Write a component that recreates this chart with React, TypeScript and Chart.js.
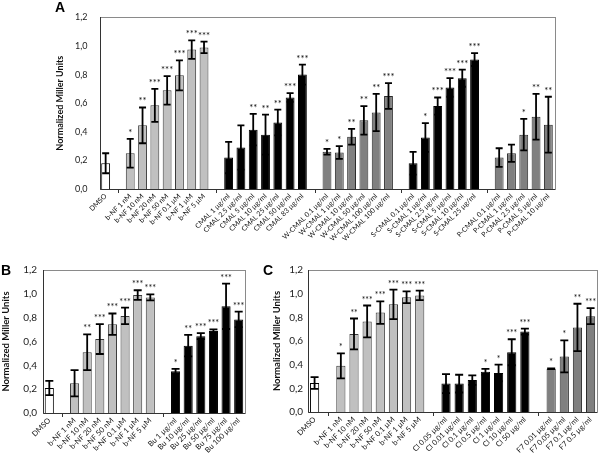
import React, { useEffect, useRef } from "react";
import { Chart, registerables } from "chart.js";
Chart.register(...registerables);

const FONT = "Lato, 'Open Sans', sans-serif";

// ---------- Panel A ----------
const aLabels = ["DMSO", "", "b-NF 1 nM", "b-NF 10 nM", "b-NF 20 nM", "b-NF 50 nM", "b-NF 0.1 µM", "b-NF 1 µM", "b-NF 5 µM", "",
  "CMAL 1 µg/ml", "CMAL 2.5 µg/ml", "CMAL 5 µg/ml", "CMAL 10 µg/ml", "CMAL 25 µg/ml", "CMAL 50 µg/ml", "CMAL 83 µg/ml", "",
  "W-CMAL 0.1 µg/ml", "W-CMAL 1 µg/ml", "W-CMAL 10 µg/ml", "W-CMAL 50 µg/ml", "W-CMAL 100 µg/ml", "W-CMAL 100 µg/ml", "",
  "S-CMAL 0.1 µg/ml", "S-CMAL 1 µg/ml", "S-CMAL 2.5 µg/ml", "S-CMAL 5 µg/ml", "S-CMAL 10 µg/ml", "S-CMAL 25 µg/ml", "",
  "P-CMAL 0.1 µg/ml", "P-CMAL 1 µg/ml", "P-CMAL 2.5 µg/ml", "P-CMAL 5 µg/ml", "P-CMAL 10 µg/ml"];
const aValues = [0.18, null, 0.25, 0.445, 0.585, 0.69, 0.795, 0.975, 0.99, null,
  0.22, 0.29, 0.415, 0.38, 0.465, 0.64, 0.8, null,
  0.26, 0.255, 0.365, 0.48, 0.535, 0.65, null,
  0.18, 0.36, 0.58, 0.71, 0.775, 0.905, null,
  0.22, 0.25, 0.38, 0.505, 0.45];
const aErrors = [0.07, null, 0.1, 0.125, 0.115, 0.1, 0.105, 0.065, 0.04, null,
  0.11, 0.155, 0.11, 0.14, 0.09, 0.03, 0.07, null,
  0.02, 0.045, 0.055, 0.1, 0.13, 0.09, null,
  0.08, 0.1, 0.06, 0.065, 0.06, 0.045, null,
  0.065, 0.06, 0.11, 0.16, 0.195];
const aSig = ["", "", "*", "**", "***", "***", "***", "***", "***", "",
  "", "", "**", "**", "**", "***", "***", "",
  "*", "*", "**", "**", "**", "***", "",
  "", "*", "***", "***", "***", "***", "",
  "", "", "*", "**", "**"];
const aGroups = ["dmso", "", "bnf", "bnf", "bnf", "bnf", "bnf", "bnf", "bnf", "",
  "dark", "dark", "dark", "dark", "dark", "dark", "dark", "",
  "mid", "mid", "mid", "mid", "mid", "mid", "",
  "dark", "dark", "dark", "dark", "dark", "dark", "",
  "mid", "mid", "mid", "mid", "mid"];

// ---------- Panel B ----------
const bLabels = ["DMSO", "", "b-NF 1 nM", "b-NF 10 nM", "b-NF 20 nM", "b-NF 50 nM", "b-NF 0.1 µM", "b-NF 1 µM", "b-NF 5 µM", "",
  "Bu 1 µg/ml", "Bu 10 µg/ml", "Bu 25 µg/ml", "Bu 50 µg/ml", "Bu 75 µg/ml", "Bu 100 µg/ml"];
const bValues = [0.21, null, 0.25, 0.51, 0.62, 0.745, 0.815, 0.99, 0.97, null,
  0.35, 0.565, 0.645, 0.69, 0.895, 0.785];
const bErrors = [0.06, null, 0.11, 0.15, 0.125, 0.09, 0.07, 0.04, 0.025, null,
  0.02, 0.09, 0.025, 0.012, 0.19, 0.065];
const bSig = ["", "", "", "**", "***", "***", "***", "***", "***", "",
  "*", "**", "***", "***", "***", "***"];
const bGroups = ["dmso", "", "bnf", "bnf", "bnf", "bnf", "bnf", "bnf", "bnf", "",
  "dark", "dark", "dark", "dark", "dark", "dark"];

// ---------- Panel C ----------
const cLabels = ["DMSO", "", "b-NF 1 nM", "b-NF 10 nM", "b-NF 20 nM", "b-NF 50 nM", "b-NF 0.1 µM", "b-NF 1 µM", "b-NF 5 µM", "",
  "Cl 0.05 µg/ml", "Cl 0.01 µg/ml", "Cl 0.1 µg/ml", "Cl 0.5 µg/ml", "Cl 1 µg/ml", "Cl 10 µg/ml", "Cl 50 µg/ml", "",
  "F7 0.01 µg/ml", "F7 0.05 µg/ml", "F7 0.1 µg/ml", "F7 0.5 µg/ml"];
const cValues = [0.245, null, 0.39, 0.66, 0.765, 0.84, 0.91, 0.97, 0.985, null,
  0.24, 0.24, 0.27, 0.34, 0.33, 0.505, 0.68, null,
  0.365, 0.47, 0.715, 0.81];
const cErrors = [0.05, null, 0.105, 0.13, 0.135, 0.095, 0.125, 0.05, 0.04, null,
  0.08, 0.075, 0.04, 0.025, 0.07, 0.11, 0.025, null,
  0.003, 0.135, 0.2, 0.068];
const cSig = ["", "", "*", "**", "***", "***", "***", "***", "***", "",
  "", "", "", "*", "*", "***", "***", "",
  "*", "*", "**", "***"];
const cGroups = ["dmso", "", "bnf", "bnf", "bnf", "bnf", "bnf", "bnf", "bnf", "",
  "dark", "dark", "dark", "dark", "dark", "dark", "dark", "",
  "mid", "mid", "mid", "mid"];

const yTicks = [0, 0.2, 0.4, 0.6, 0.8, 1.0, 1.2];
const yTitle = "Normalized Miller Units";

const FILL: Record<string, string> = { dmso: "#ffffff", bnf: "#c0c0c0", dark: "#000000", mid: "#808080", "": "#ffffff" };
const EDGE: Record<string, string> = { dmso: "#000000", bnf: "#3a3a3a", dark: "#000000", mid: "#2a2a2a", "": "#ffffff" };

type PanelCfg = {
  letter: string;
  labels: string[];
  values: (number | null)[];
  errors: (number | null)[];
  sig: string[];
  groups: string[];
  x: number; y: number; w: number; h: number;
  area: { left: number; right: number; top: number; bottom: number };
  tickFont: number; xFont: number; titleFont: number; starFont: number;
  tickPad: number;
  titleX: number; letterX: number; letterY: number;
  barPct: number; cap: number;
};

function Panel({ cfg }: { cfg: PanelCfg }) {
  const ref = useRef<HTMLCanvasElement>(null);
  useEffect(() => {
    const c = cfg;
    const deco = {
      id: "deco" + c.letter,
      afterDraw(chart: any) {
        const ctx = chart.ctx as CanvasRenderingContext2D;
        const ca = chart.chartArea;
        const xs = chart.scales.x;
        const ys = chart.scales.y;
        ctx.save();
        // plot box
        ctx.strokeStyle = "#8a8a8a";
        ctx.lineWidth = 1;
        ctx.strokeRect(Math.round(ca.left) + 0.5, Math.round(ca.top) + 0.5, Math.round(ca.right - ca.left), Math.round(ca.bottom - ca.top));
        ctx.strokeStyle = "#333";
        ctx.beginPath();
        ctx.moveTo(Math.round(ca.left) + 0.5, Math.round(ca.top));
        ctx.lineTo(Math.round(ca.left) + 0.5, Math.round(ca.bottom) + 0.5);
        ctx.lineTo(Math.round(ca.right), Math.round(ca.bottom) + 0.5);
        ctx.stroke();
        // small ticks at gap slots
        c.labels.forEach((l, i) => {
          if (l === "") {
            const px = Math.round(xs.getPixelForValue(i)) + 0.5;
            ctx.beginPath();
            ctx.moveTo(px, ca.bottom);
            ctx.lineTo(px, ca.bottom + 4);
            ctx.stroke();
          }
        });
        // error bars + stars
        const meta = chart.getDatasetMeta(0);
        ctx.strokeStyle = "#000";
        ctx.fillStyle = "#111";
        ctx.lineWidth = 1.8;
        ctx.font = `${c.starFont}px ${FONT}`;
        ctx.textAlign = "center";
        ctx.textBaseline = "alphabetic";
        c.values.forEach((v, i) => {
          const e = c.errors[i];
          if (v == null || e == null) return;
          const px = meta.data[i].x;
          const yt = ys.getPixelForValue(v + e);
          const yb = ys.getPixelForValue(v - e);
          ctx.beginPath();
          ctx.moveTo(px, yt);
          ctx.lineTo(px, yb);
          ctx.moveTo(px - c.cap, yt);
          ctx.lineTo(px + c.cap, yt);
          ctx.moveTo(px - c.cap, yb);
          ctx.lineTo(px + c.cap, yb);
          ctx.stroke();
          if (c.sig[i]) ctx.fillText(c.sig[i], px, yt - 3);
        });
        // y title
        ctx.fillStyle = "#111";
        ctx.font = `bold ${c.titleFont}px ${FONT}`;
        ctx.translate(c.titleX, (ca.top + ca.bottom) / 2);
        ctx.rotate(-Math.PI / 2);
        ctx.textAlign = "center";
        ctx.textBaseline = "middle";
        ctx.fillText(yTitle, 0, 0);
        ctx.setTransform(1, 0, 0, 1, 0, 0);
        // panel letter
        ctx.font = `bold 14px 'Liberation Sans', Arial, sans-serif`;
        ctx.textAlign = "center";
        ctx.textBaseline = "middle";
        ctx.fillStyle = "#000";
        ctx.fillText(c.letter, c.letterX, c.letterY);
        ctx.restore();
      },
    };
    const chart = new Chart(ref.current as HTMLCanvasElement, {
      type: "bar",
      data: {
        labels: c.labels,
        datasets: [
          {
            data: c.values as any,
            backgroundColor: c.groups.map((g) => FILL[g]),
            borderColor: c.groups.map((g) => EDGE[g]),
            borderWidth: 1,
            barPercentage: c.barPct,
            categoryPercentage: 1,
          },
        ],
      },
      options: {
        animation: false,
        responsive: false,
        maintainAspectRatio: false,
        devicePixelRatio: 1,
        events: [],
        layout: { padding: { left: 0, top: c.area.top, right: c.w - c.area.right, bottom: 0 } },
        plugins: { legend: { display: false }, tooltip: { enabled: false } },
        scales: {
          x: {
            type: "category",
            offset: true,
            grid: { display: false, drawTicks: false },
            border: { display: false },
            ticks: {
              autoSkip: false,
              maxRotation: 45,
              minRotation: 45,
              padding: 3,
              color: "#111",
              font: { family: FONT, size: c.xFont },
            },
            afterFit: (s: any) => { s.height = c.h - c.area.bottom; },
          },
          y: {
            min: 0,
            max: 1.2,
            grid: { display: false, drawTicks: false },
            border: { display: false },
            afterBuildTicks: (s: any) => { s.ticks = yTicks.map((v) => ({ value: v })); },
            ticks: {
              padding: c.tickPad,
              color: "#222",
              font: { family: FONT, size: c.tickFont },
              callback: (v: any) => Number(v).toFixed(1).replace(".", ","),
            },
            afterFit: (s: any) => { s.width = c.area.left; },
          },
        },
      },
      plugins: [deco],
    });
    return () => chart.destroy();
  }, []);
  return (
    <canvas
      ref={ref}
      width={cfg.w}
      height={cfg.h}
      style={{ position: "absolute", left: cfg.x, top: cfg.y, width: cfg.w, height: cfg.h }}
    />
  );
}

const panelA: PanelCfg = {
  letter: "A", labels: aLabels, values: aValues, errors: aErrors, sig: aSig, groups: aGroups,
  x: 0, y: 0, w: 600, h: 255,
  area: { left: 99.5, right: 554.5, top: 5, bottom: 189 },
  tickFont: 9, xFont: 7, titleFont: 9, starFont: 9.5, tickPad: 12,
  titleX: 60, letterX: 60, letterY: 8, barPct: 0.72, cap: 3.5,
};
const panelB: PanelCfg = {
  letter: "B", labels: bLabels, values: bValues, errors: bErrors, sig: bSig, groups: bGroups,
  x: 0, y: 255, w: 258, h: 204,
  area: { left: 43, right: 245, top: 15, bottom: 158 },
  tickFont: 10, xFont: 7.5, titleFont: 9.5, starFont: 9, tickPad: 6,
  titleX: 6, letterX: 6, letterY: 16, barPct: 0.72, cap: 4,
};
const panelC: PanelCfg = {
  letter: "C", labels: cLabels, values: cValues, errors: cErrors, sig: cSig, groups: cGroups,
  x: 258, y: 255, w: 342, h: 204,
  area: { left: 50, right: 340, top: 15, bottom: 157 },
  tickFont: 10, xFont: 7.5, titleFont: 9.5, starFont: 8.5, tickPad: 5,
  titleX: 19, letterX: 10, letterY: 16, barPct: 0.7, cap: 4,
};

export default function App() {
  return (
    <div style={{ position: "absolute", left: 0, top: 0, width: 600, height: 459, background: "#fff", overflow: "hidden" }}>
      <Panel cfg={panelA} />
      <Panel cfg={panelB} />
      <Panel cfg={panelC} />
    </div>
  );
}
